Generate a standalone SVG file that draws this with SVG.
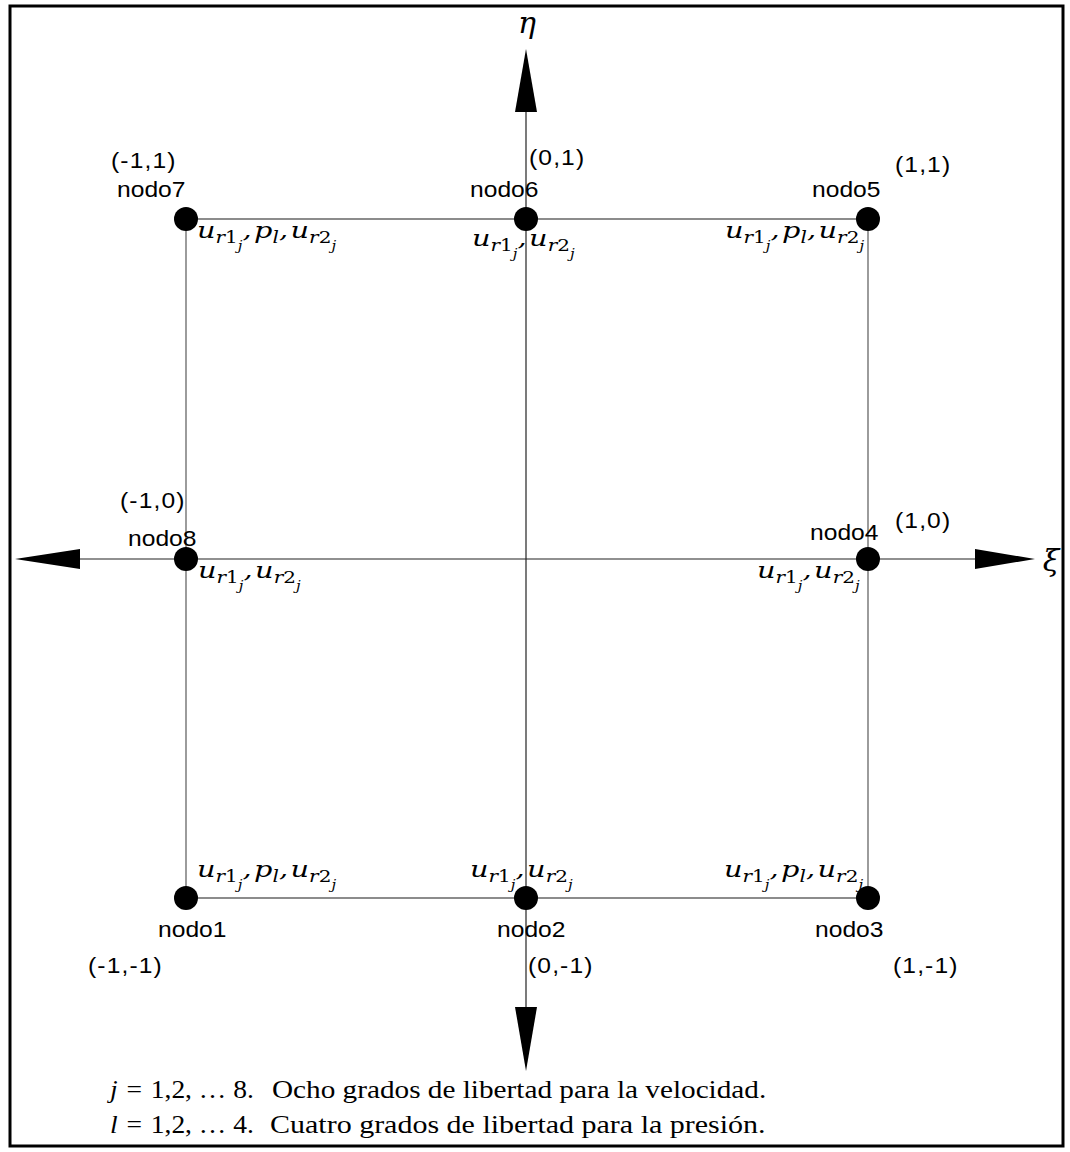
<svg xmlns="http://www.w3.org/2000/svg" width="1070" height="1152" viewBox="0 0 1070 1152">
<style>
.frame{fill:#fff;stroke:#000;stroke-width:3}
.edge{stroke:#666;stroke-width:1.3;fill:none}
.axis{stroke:#222;stroke-width:1.2;fill:none}
.head{fill:#000}
.dot{fill:#000}
.lbl{font-family:"Liberation Sans",Arial,sans-serif;font-size:22px;fill:#000}
.crd{letter-spacing:1px}
.m{font-family:"DejaVu Serif","Liberation Serif",serif;font-style:italic;font-size:23px;fill:#000}
.s{font-size:16px}
.ss{font-size:12px}
.up{font-style:normal}
.sym{font-family:"DejaVu Serif","Liberation Serif",serif;font-style:italic;font-size:30px;fill:#000}
.note{font-family:"Liberation Serif","DejaVu Serif",serif;font-size:25px;fill:#000}
</style>
<rect class="frame" x="10" y="6" width="1053" height="1140"/>
<g id="connectors">
  <line class="edge" x1="186" y1="219" x2="868" y2="219"/>
  <line class="edge" x1="186" y1="898" x2="868" y2="898"/>
  <line class="edge" x1="186" y1="219" x2="186" y2="898"/>
  <line class="edge" x1="868" y1="219" x2="868" y2="898"/>
  <line class="axis" x1="526" y1="110" x2="526" y2="1010"/>
  <line class="axis" x1="78" y1="559" x2="977" y2="559"/>
  <polygon class="head" points="526,49 515,112 537,112"/>
  <polygon class="head" points="526,1071 515,1007 537,1007"/>
  <polygon class="head" points="15,559 80,549 80,569"/>
  <polygon class="head" points="1035,559 975,549 975,569"/>
  <text class="sym" x="527" y="33" text-anchor="middle">η</text>
  <text class="sym" x="1051" y="571" text-anchor="middle">ξ</text>
</g>
<g id="nodo7">
  <circle class="dot" cx="186" cy="219" r="12"/>
  <text class="lbl crd" transform="translate(111,168) scale(1.12,1)">(-1,1)</text>
  <text class="lbl" transform="translate(117,197) scale(1.12,1)">nodo7</text>
  <text class="m" transform="translate(197,238) scale(1.25,1)">u<tspan class="s" dy="5">r<tspan class="up">1</tspan></tspan><tspan class="ss" dy="7">j</tspan><tspan dy="-12">,</tspan><tspan dx="2">p</tspan><tspan class="s" dy="5">l</tspan><tspan dy="-5">,</tspan><tspan dx="2">u</tspan><tspan class="s" dy="5">r<tspan class="up">2</tspan></tspan><tspan class="ss" dy="7">j</tspan></text>
</g>
<g id="nodo6">
  <circle class="dot" cx="526" cy="219" r="12"/>
  <text class="lbl crd" transform="translate(529,165) scale(1.12,1)">(0,1)</text>
  <text class="lbl" transform="translate(470,197) scale(1.12,1)">nodo6</text>
  <text class="m" transform="translate(472,246) scale(1.25,1)">u<tspan class="s" dy="5">r<tspan class="up">1</tspan></tspan><tspan class="ss" dy="7">j</tspan><tspan dy="-12">,</tspan><tspan dx="2">u</tspan><tspan class="s" dy="5">r<tspan class="up">2</tspan></tspan><tspan class="ss" dy="7">j</tspan></text>
</g>
<g id="nodo5">
  <circle class="dot" cx="868" cy="219" r="12"/>
  <text class="lbl crd" transform="translate(895,172) scale(1.12,1)">(1,1)</text>
  <text class="lbl" transform="translate(812,197) scale(1.12,1)">nodo5</text>
  <text class="m" transform="translate(725,238) scale(1.25,1)">u<tspan class="s" dy="5">r<tspan class="up">1</tspan></tspan><tspan class="ss" dy="7">j</tspan><tspan dy="-12">,</tspan><tspan dx="2">p</tspan><tspan class="s" dy="5">l</tspan><tspan dy="-5">,</tspan><tspan dx="2">u</tspan><tspan class="s" dy="5">r<tspan class="up">2</tspan></tspan><tspan class="ss" dy="7">j</tspan></text>
</g>
<g id="nodo8">
  <circle class="dot" cx="186" cy="559" r="12"/>
  <text class="lbl crd" transform="translate(120,508) scale(1.12,1)">(-1,0)</text>
  <text class="lbl" transform="translate(128,546) scale(1.12,1)">nodo8</text>
  <text class="m" transform="translate(198,578) scale(1.25,1)">u<tspan class="s" dy="5">r<tspan class="up">1</tspan></tspan><tspan class="ss" dy="7">j</tspan><tspan dy="-12">,</tspan><tspan dx="2">u</tspan><tspan class="s" dy="5">r<tspan class="up">2</tspan></tspan><tspan class="ss" dy="7">j</tspan></text>
</g>
<g id="nodo4">
  <circle class="dot" cx="868" cy="559" r="12"/>
  <text class="lbl crd" transform="translate(895,528) scale(1.12,1)">(1,0)</text>
  <text class="lbl" transform="translate(810,540) scale(1.12,1)">nodo4</text>
  <text class="m" transform="translate(757,578) scale(1.25,1)">u<tspan class="s" dy="5">r<tspan class="up">1</tspan></tspan><tspan class="ss" dy="7">j</tspan><tspan dy="-12">,</tspan><tspan dx="2">u</tspan><tspan class="s" dy="5">r<tspan class="up">2</tspan></tspan><tspan class="ss" dy="7">j</tspan></text>
</g>
<g id="nodo1">
  <circle class="dot" cx="186" cy="898" r="12"/>
  <text class="lbl" transform="translate(158,937) scale(1.12,1)">nodo1</text>
  <text class="lbl crd" transform="translate(88,973) scale(1.12,1)">(-1,-1)</text>
  <text class="m" transform="translate(197,877) scale(1.25,1)">u<tspan class="s" dy="5">r<tspan class="up">1</tspan></tspan><tspan class="ss" dy="7">j</tspan><tspan dy="-12">,</tspan><tspan dx="2">p</tspan><tspan class="s" dy="5">l</tspan><tspan dy="-5">,</tspan><tspan dx="2">u</tspan><tspan class="s" dy="5">r<tspan class="up">2</tspan></tspan><tspan class="ss" dy="7">j</tspan></text>
</g>
<g id="nodo2">
  <circle class="dot" cx="526" cy="898" r="12"/>
  <text class="lbl" transform="translate(497,937) scale(1.12,1)">nodo2</text>
  <text class="lbl crd" transform="translate(528,973) scale(1.12,1)">(0,-1)</text>
  <text class="m" transform="translate(470,877) scale(1.25,1)">u<tspan class="s" dy="5">r<tspan class="up">1</tspan></tspan><tspan class="ss" dy="7">j</tspan><tspan dy="-12">,</tspan><tspan dx="2">u</tspan><tspan class="s" dy="5">r<tspan class="up">2</tspan></tspan><tspan class="ss" dy="7">j</tspan></text>
</g>
<g id="nodo3">
  <circle class="dot" cx="868" cy="898" r="12"/>
  <text class="lbl" transform="translate(815,937) scale(1.12,1)">nodo3</text>
  <text class="lbl crd" transform="translate(893,973) scale(1.12,1)">(1,-1)</text>
  <text class="m" transform="translate(724,877) scale(1.25,1)">u<tspan class="s" dy="5">r<tspan class="up">1</tspan></tspan><tspan class="ss" dy="7">j</tspan><tspan dy="-12">,</tspan><tspan dx="2">p</tspan><tspan class="s" dy="5">l</tspan><tspan dy="-5">,</tspan><tspan dx="2">u</tspan><tspan class="s" dy="5">r<tspan class="up">2</tspan></tspan><tspan class="ss" dy="7">j</tspan></text>
</g>
<g id="notes">
  <text class="note" transform="translate(110,1098) scale(1.1,1)"><tspan font-style="italic">j</tspan><tspan dx="8">=</tspan><tspan dx="8">1,2, … 8.</tspan></text>
  <text class="note" transform="translate(272,1098) scale(1.17,1)">Ocho grados de libertad para la velocidad.</text>
  <text class="note" transform="translate(110,1133) scale(1.1,1)"><tspan font-style="italic">l</tspan><tspan dx="8">=</tspan><tspan dx="8">1,2, … 4.</tspan></text>
  <text class="note" transform="translate(270,1133) scale(1.2,1)">Cuatro grados de libertad para la presión.</text>
</g>
</svg>
